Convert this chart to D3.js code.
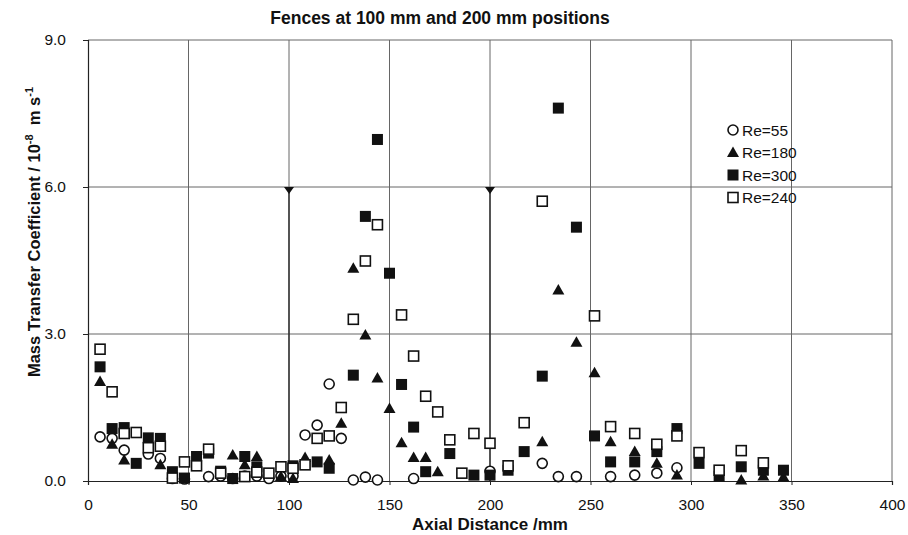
<!DOCTYPE html>
<html>
<head>
<meta charset="utf-8">
<script src="https://cdn.jsdelivr.net/npm/d3@7"></script>
<style>
	body { margin:0; background:#fff; }
	text { font-family:"Liberation Sans", Arial, sans-serif; }
</style>
</head>
<body>
<svg id="chart" width="908" height="535"></svg>
<script>

// --------------------------------
// data
// [axial distance mm, coefficient]
// --------------------------------

var re55 = [[6,0.90],[12,0.87],[18,0.63],[30,0.55],[36,0.46],[42,0.05],[48,0.04],[60,0.09],[66,0.10],[72,0.05],
	[78,0.10],[84,0.10],[90,0.05],[96,0.10],[102,0.10],[108,0.94],[114,1.14],[120,1.98],[126,0.87],[132,0.02],
	[138,0.08],[144,0.02],[162,0.05],[200,0.20],[226,0.36],[234,0.09],[243,0.09],[260,0.09],[272,0.12],[283,0.16],[293,0.27]];

var re180 = [[6,2.03],[12,0.75],[18,0.43],[36,0.33],[72,0.53],[78,0.33],[84,0.50],[96,0.09],[102,0.05],[108,0.48],
	[120,0.43],[126,1.18],[132,4.34],[138,2.98],[144,2.10],[150,1.48],[156,0.78],[162,0.48],[168,0.48],[174,0.19],
	[226,0.80],[234,3.90],[243,2.83],[252,2.21],[260,0.80],[272,0.60],[283,0.36],[293,0.12],[325,0.02],[336,0.10],[346,0.08]];

var re300 = [[6,2.33],[12,1.07],[18,1.09],[24,0.36],[30,0.88],[36,0.87],[42,0.19],[48,0.06],[54,0.50],[60,0.57],
	[66,0.20],[72,0.05],[78,0.50],[84,0.29],[102,0.31],[114,0.39],[120,0.26],[132,2.16],[138,5.40],[144,6.97],
	[150,4.24],[156,1.97],[162,1.10],[168,0.19],[180,0.56],[192,0.12],[200,0.12],[209,0.22],[217,0.60],[226,2.14],
	[234,7.61],[243,5.18],[252,0.92],[260,0.39],[272,0.39],[283,0.60],[293,1.07],[304,0.36],[314,0.10],[325,0.29],
	[336,0.22],[346,0.22]];

var re240 = [[6,2.69],[12,1.82],[18,0.97],[24,0.99],[30,0.68],[36,0.71],[42,0.06],[48,0.39],[54,0.31],[60,0.65],
	[66,0.16],[78,0.09],[84,0.18],[90,0.16],[96,0.29],[102,0.26],[108,0.33],[114,0.87],[120,0.92],[126,1.50],
	[132,3.30],[138,4.49],[144,5.23],[156,3.39],[162,2.55],[168,1.73],[174,1.41],[180,0.84],[186,0.16],[192,0.97],
	[200,0.77],[209,0.31],[217,1.19],[226,5.71],[252,3.37],[260,1.11],[272,0.97],[283,0.75],[293,0.92],[304,0.58],
	[314,0.22],[325,0.62],[336,0.37]];

var xTicks = [0,50,100,150,200,250,300,350,400];
var yTicks = [0,3,6,9];
var fences = [100,200];
var legendNames = ["Re=55","Re=180","Re=300","Re=240"];

// --------------------------------
// scales
// --------------------------------

var svg = d3.select("#chart");
var x = d3.scaleLinear().domain([0,400]).range([88,892]);
var y = d3.scaleLinear().domain([0,9]).range([481,40]);

// grid lines
svg.append("g").selectAll("line").data(xTicks.slice(1)).enter().append("line")
	.attr("x1",function(d){return x(d);}).attr("x2",function(d){return x(d);})
	.attr("y1",y(0)).attr("y2",y(9))
	.attr("style","stroke:#666;stroke-width:1;");
svg.append("g").selectAll("line").data(yTicks.slice(1)).enter().append("line")
	.attr("x1",x(0)).attr("x2",x(400))
	.attr("y1",function(d){return y(d);}).attr("y2",function(d){return y(d);})
	.attr("style","stroke:#666;stroke-width:1;");

// fences: dark line from 6.0 down with a small arrow head
svg.append("g").selectAll("line").data(fences).enter().append("line")
	.attr("x1",function(d){return x(d);}).attr("x2",function(d){return x(d);})
	.attr("y1",y(6)).attr("y2",y(0))
	.attr("style","stroke:#222;stroke-width:1.3;");
svg.append("g").selectAll("path").data(fences).enter().append("path")
	.attr("d",function(d){return "M"+(x(d)-5)+","+y(6)+" l10,0 l-5,7 z";})
	.attr("style","fill:#111;");

// axes
var xAxis = svg.append("g").attr("transform","translate(0,"+y(0)+")")
	.call(d3.axisBottom(x).tickValues(xTicks).tickSize(4).tickPadding(14).tickFormat(d3.format("d")));
var yAxis = svg.append("g").attr("transform","translate("+x(0)+",0)")
	.call(d3.axisLeft(y).tickValues(yTicks).tickSize(5).tickPadding(17).tickFormat(d3.format(".1f")));
[xAxis,yAxis].forEach(function(a){
	a.select(".domain").attr("style","stroke:#222;stroke-width:1.2;");
	a.selectAll(".tick line").attr("style","stroke:#222;");
	a.selectAll("text").attr("style","font-family:'Liberation Sans',Arial;font-size:15.5px;fill:#111;");
});

// --------------------------------
// markers
// --------------------------------

var drawMarker = function(g,type,cx,cy){
	if (type == 0){
		g.append("circle").attr("cx",cx).attr("cy",cy).attr("r",5)
			.attr("style","fill:#fff;stroke:#111;stroke-width:1.6;");
	}else if (type == 1){
		g.append("path").attr("d","M"+cx+","+(cy-6)+" l6,10.5 l-12,0 z")
			.attr("style","fill:#111;");
	}else if (type == 2){
		g.append("rect").attr("x",cx-5.5).attr("y",cy-5.5).attr("width",11).attr("height",11)
			.attr("style","fill:#111;");
	}else{
		g.append("rect").attr("x",cx-5).attr("y",cy-5).attr("width",10).attr("height",10)
			.attr("style","fill:#fff;stroke:#111;stroke-width:1.6;");
	}
};

var series = [re55,re180,re300,re240];
series.forEach(function(s,i){
	var g = svg.append("g");
	s.forEach(function(p){
		drawMarker(g,i,x(p[0]),y(p[1]));
	});
});

// legend
var lg = svg.append("g");
legendNames.forEach(function(name,i){
	var ly = 130 + i*22.5;
	drawMarker(lg,i,733,ly);
	lg.append("text").attr("x",742).attr("y",ly+5.5)
		.attr("style","font-size:15.5px;fill:#111;")
		.text(name);
});

// --------------------------------
// titles
// --------------------------------

svg.append("text").attr("x",440).attr("y",24)
	.attr("style","font-size:17.5px;font-weight:bold;text-anchor:middle;fill:#111;")
	.text("Fences at 100 mm and 200 mm positions");

svg.append("text").attr("x",490).attr("y",530)
	.attr("style","font-size:17px;font-weight:bold;text-anchor:middle;fill:#111;")
	.text("Axial Distance /mm");

var yl = svg.append("text")
	.attr("transform","translate(40,232) rotate(-90)")
	.attr("style","font-size:16.5px;font-weight:bold;text-anchor:middle;fill:#111;");
yl.append("tspan").text("Mass Transfer Coefficient / 10");
yl.append("tspan").attr("dy",-7).attr("style","font-size:11px;").text("-8");
yl.append("tspan").attr("dy",7).text("\u00a0\u00a0m s");
yl.append("tspan").attr("dy",-7).attr("style","font-size:11px;").text("-1");

</script>
</body>
</html>
